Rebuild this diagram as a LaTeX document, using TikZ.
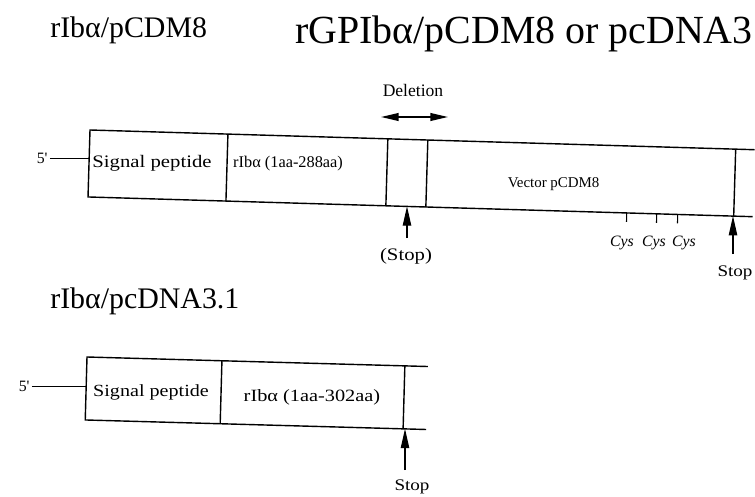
\documentclass[tikz,border=0pt]{standalone}
\usepackage{fontspec}
\setmainfont{Liberation Serif}
\newfontfamily\wide[FakeStretch=1.18]{Liberation Serif}
\usetikzlibrary{arrows.meta}
\begin{document}
\begin{tikzpicture}[x=0.02cm,y=-0.02cm,
  box/.style={line width=0.8pt},
  thin/.style={line width=0.6pt},
  stoparrow/.style={line width=0.6pt,-{Triangle[length=11pt,width=4.8pt]}},
  delarrow/.style={line width=0.9pt,{Triangle[length=10pt,width=4.4pt]}-{Triangle[length=10pt,width=4.4pt]}},
  lbl/.style={inner sep=0pt},
  big/.style={lbl,font=\fontsize{17pt}{20pt}\selectfont},
  huge/.style={lbl,font=\fontsize{22.7pt}{26pt}\selectfont},
  wtxt/.style={lbl,font=\wide\fontsize{10pt}{12pt}\selectfont},
  ntxt/.style={lbl,font=\fontsize{9.3pt}{11pt}\selectfont},
  cys/.style={lbl,font=\itshape\fontsize{9pt}{11pt}\selectfont}]
\useasboundingbox (0,0) rectangle (755,497);

% titles
\node[big,anchor=base west] (t1) at (50,37) {rIbα/pCDM8};
\node[huge,anchor=base west] (t2) at (295,44) {rGPIbα/pCDM8 or pcDNA3};
\node[big,anchor=base west] (t3) at (50,308) {rIbα/pcDNA3.1};

% deletion
\node[lbl,font=\fontsize{10pt}{12pt}\selectfont] (del) at (413,90) {Deletion};
\coordinate (dl) at (381,117);
\coordinate (dr) at (448,117);
\draw[delarrow] (dl) -- (dr);

% top construct
\begin{scope}[shift={(90,130)},rotate=-1.7]
  \draw[box] (665,0) -- (0,0) -- (0,67) -- (665,67);
  \draw[box] (138,0) -- (138,67);
  \draw[box] (298,0) -- (298,67);
  \draw[box] (338,0) -- (338,67);
  \draw[box] (646,0) -- (646,67);
  \coordinate (b1) at (0,33);
  \node[lbl,font=\fontsize{9pt}{11pt}\selectfont] (f1) at (-47,30) {5\textquotesingle};
  \node[wtxt] (sp1) at (63,31) {Signal peptide};
  \node[ntxt] (ib1) at (199,28) {rIbα (1aa-288aa)};
  \node[lbl,font=\fontsize{8.5pt}{10pt}\selectfont] (vec) at (465,40) {Vector pCDM8};
  \coordinate (s1) at (317,67);
  \coordinate (s2) at (643,67);
  \coordinate (c1) at (539,67);
  \coordinate (c2) at (569,67);
  \coordinate (c3) at (590,67);
  \coordinate (c1e) at (539,76);
  \coordinate (c2e) at (569,76);
  \coordinate (c3e) at (590,76);
\end{scope}
\draw[thin] (f1.east) ++(2,0) coordinate (f1e) -- (f1e -| b1);
\draw[thin] (c1) -- (c1e);
\draw[thin] (c2) -- (c2e);
\draw[thin] (c3) -- (c3e);
\node[cys] (cy1) at (622,243) {Cys};
\node[cys] (cy2) at (654,243) {Cys};
\node[cys] (cy3) at (684,243) {Cys};

\node[wtxt] (st1) at (406,256) {(Stop)};
\coordinate (a1) at (407,238);
\draw[stoparrow] (a1) -- (a1 |- s1);
\node[wtxt,font=\wide\fontsize{9.2pt}{11pt}\selectfont] (st2) at (735,273) {Stop};
\coordinate (a2) at (733,254);
\draw[stoparrow] (a2) -- (a2 |- s2);

% bottom construct
\begin{scope}[shift={(87,357)},rotate=-1.6]
  \draw[box] (341,0) -- (0,0) -- (0,63) -- (341,63);
  \draw[box] (135,0) -- (135,63);
  \draw[box] (318,0) -- (318,63);
  \coordinate (b2) at (0,31);
  \node[lbl,font=\fontsize{9pt}{11pt}\selectfont] (f2) at (-62,31) {5\textquotesingle};
  \node[wtxt,font=\wide\fontsize{9.7pt}{11pt}\selectfont] (sp2) at (65,34) {Signal peptide};
  \node[wtxt,font=\wide\fontsize{9.8pt}{11pt}\selectfont] (ib2) at (226,34) {rIbα (1aa-302aa)};
  \coordinate (s3) at (318,63);
\end{scope}
\draw[thin] (f2.east) ++(2,0) coordinate (f2e) -- (f2e -| b2);
\node[wtxt,font=\wide\fontsize{9.2pt}{11pt}\selectfont] (st3) at (412,487) {Stop};
\coordinate (a3) at (405,470);
\draw[stoparrow] (a3) -- (a3 |- s3);
\end{tikzpicture}
\end{document}
